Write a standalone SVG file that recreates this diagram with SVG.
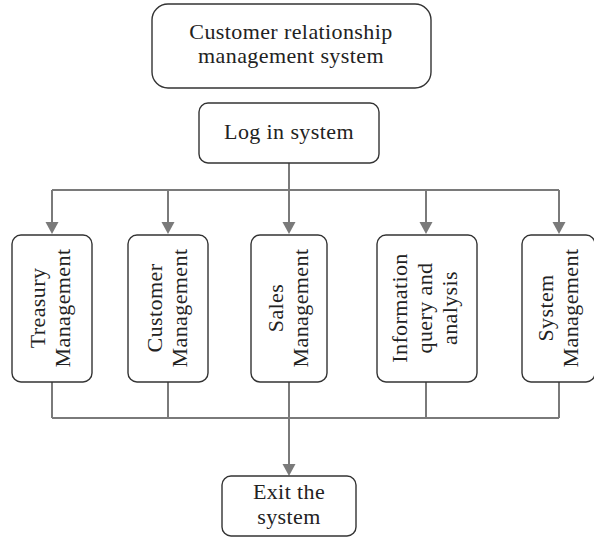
<svg xmlns="http://www.w3.org/2000/svg" width="594" height="538" viewBox="0 0 594 538">
<style>
.box{fill:#fff;stroke:#333;stroke-width:1.4}
.t{font-family:"Liberation Serif","Times New Roman",serif;font-size:22px;fill:#222;text-anchor:middle;letter-spacing:0.4px}
.ln{fill:none;stroke:#7a7a7a;stroke-width:2}
.ah{fill:#7a7a7a}
</style>
<defs>
<path id="arr" d="M-6.5,-12 L6.5,-12 L0,0 Z"/>
</defs>
<g id="connectors">
<path class="ln" d="M289,163 V190 M52,190 H559 M52,190 V224 M168,190 V224 M289,190 V224 M426,190 V224 M559,190 V224"/>
<path class="ln" d="M52,382 V418 M168,382 V418 M289,382 V418 M426,382 V418 M559,382 V418 M52,418 H559 M289,418 V466"/>
<use href="#arr" class="ah" x="52" y="234"/>
<use href="#arr" class="ah" x="168" y="234"/>
<use href="#arr" class="ah" x="289" y="234"/>
<use href="#arr" class="ah" x="426" y="234"/>
<use href="#arr" class="ah" x="559" y="234"/>
<use href="#arr" class="ah" x="289" y="476"/>
</g>
<g id="crm">
<rect class="box" x="152" y="4" width="279" height="84" rx="16"/>
<text class="t" x="291" y="39">Customer relationship</text>
<text class="t" x="291" y="63">management system</text>
</g>
<g id="login">
<rect class="box" x="199" y="103" width="180" height="60" rx="9"/>
<text class="t" x="289" y="139">Log in system</text>
</g>
<g id="treasury">
<rect class="box" x="12" y="235" width="80" height="147" rx="9"/>
<text class="t" transform="translate(44.5,308) rotate(-90)">Treasury</text>
<text class="t" transform="translate(70,308) rotate(-90)">Management</text>
</g>
<g id="customer">
<rect class="box" x="128" y="235" width="80" height="147" rx="9"/>
<text class="t" transform="translate(161.5,308) rotate(-90)">Customer</text>
<text class="t" transform="translate(186.5,308) rotate(-90)">Management</text>
</g>
<g id="sales">
<rect class="box" x="251" y="235" width="76" height="147" rx="9"/>
<text class="t" transform="translate(283,308) rotate(-90)">Sales</text>
<text class="t" transform="translate(308,308) rotate(-90)">Management</text>
</g>
<g id="info">
<rect class="box" x="377" y="235" width="100" height="147" rx="9"/>
<text class="t" transform="translate(407,308) rotate(-90)">Information</text>
<text class="t" transform="translate(432,308) rotate(-90)">query and</text>
<text class="t" transform="translate(457,308) rotate(-90)">analysis</text>
</g>
<g id="sysmgmt">
<rect class="box" x="522" y="235" width="73" height="147" rx="9"/>
<text class="t" transform="translate(553,308) rotate(-90)">System</text>
<text class="t" transform="translate(577.5,308) rotate(-90)">Management</text>
</g>
<g id="exit">
<rect class="box" x="222" y="476" width="134" height="60" rx="9"/>
<text class="t" x="289" y="499">Exit the</text>
<text class="t" x="289" y="524">system</text>
</g>
</svg>
